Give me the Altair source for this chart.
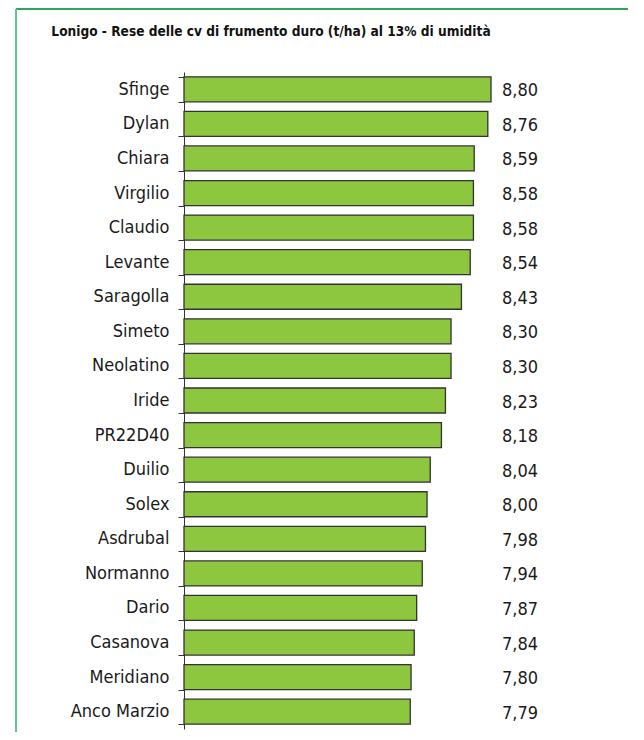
import altair as alt
import pandas as pd

cultivars = ["Sfinge", "Dylan", "Chiara", "Virgilio", "Claudio", "Levante", "Saragolla",
             "Simeto", "Neolatino", "Iride", "PR22D40", "Duilio", "Solex", "Asdrubal",
             "Normanno", "Dario", "Casanova", "Meridiano", "Anco Marzio"]
yields = [8.80, 8.76, 8.59, 8.58, 8.58, 8.54, 8.43, 8.30, 8.30, 8.23, 8.18, 8.04,
          8.00, 7.98, 7.94, 7.87, 7.84, 7.80, 7.79]

df = pd.DataFrame({
    "cv": cultivars,
    "resa": yields,
    "label": [f"{v:.2f}".replace(".", ",") for v in yields],
})

FONT = "DejaVu Sans Condensed, Liberation Sans Narrow, sans-serif"
XMIN, XMAX = 4.96, 9.0

y_enc = alt.Y("cv:N", sort=cultivars,
              scale=alt.Scale(paddingInner=0.277, paddingOuter=0.1385),
              axis=alt.Axis(title=None, tickBand="extent", tickSize=6, tickColor="#333333",
                            domainColor="#333333", domainWidth=1, tickWidth=1,
                            labelFont=FONT, labelFontSize=18, labelColor="#1a1a1a",
                            labelPadding=9))

x_scale = alt.Scale(domain=[XMIN, XMAX], nice=False, zero=False)

bars = alt.Chart(df).mark_bar(color="#8dc63f", stroke="#333333", strokeWidth=1.3).encode(
    x=alt.X("resa:Q", scale=x_scale, axis=None),
    x2=alt.datum(XMIN),
    y=y_enc,
)

labels = alt.Chart(df).mark_text(align="left", baseline="middle", dx=-5, dy=2,
                                 font=FONT, fontSize=18, color="#1a1a1a").encode(
    x=alt.X("pos:Q", scale=x_scale, axis=None),
    y=alt.Y("cv:N", sort=cultivars),
    text="label:N",
).transform_calculate(pos=str(XMAX))

border_data = alt.Data(values=[{"k": 1}])
top_border = alt.Chart(border_data).mark_rule(color="#2ea55a", strokeWidth=2).encode(
    x=alt.value(-168), x2=alt.value(460), y=alt.value(-63)
)
left_border = alt.Chart(border_data).mark_rule(color="#5cc68f", strokeWidth=2).encode(
    x=alt.value(-168), y=alt.value(-63), y2=alt.value(660)
)
title = alt.Chart(border_data).mark_text(
    text="Lonigo - Rese delle cv di frumento duro (t/ha) al 13% di umidità",
    font=FONT, fontSize=13.6, fontWeight="bold", color="#111111", align="center", baseline="middle"
).encode(x=alt.value(87), y=alt.value(-40))

chart = alt.layer(bars, labels, top_border, left_border, title).properties(
    width=323, height=657,
    autosize=alt.AutoSizeParams(type="none"),
    padding={"left": 176, "top": 64, "right": 121, "bottom": 3},
).configure_view(stroke=None)

chart.save("out.html", embed_options={"renderer": "svg", "actions": False})
